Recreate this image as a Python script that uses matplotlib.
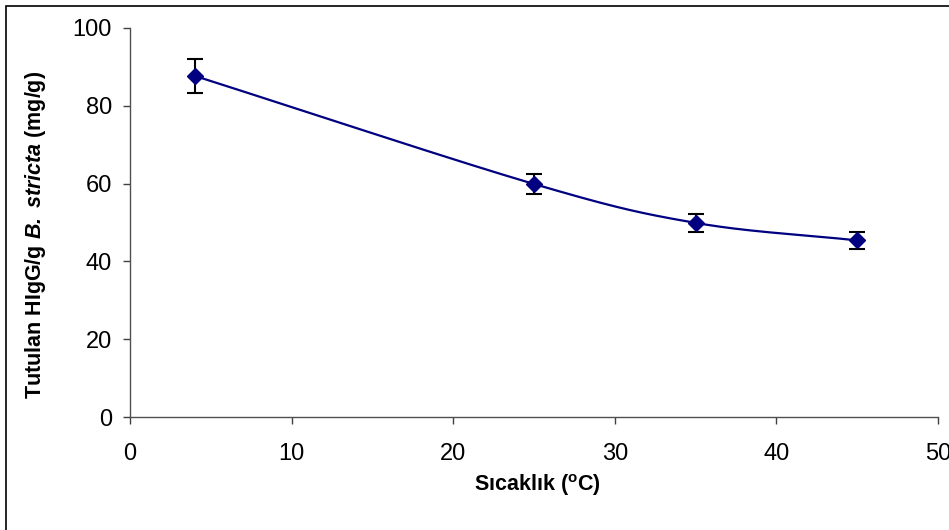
import numpy as np
import matplotlib
matplotlib.use("Agg")
import matplotlib.pyplot as plt
from matplotlib.patches import Rectangle

plt.rcParams["font.family"] = ["Liberation Sans", "DejaVu Sans"]
plt.rcParams["mathtext.fontset"] = "custom"
plt.rcParams["mathtext.rm"] = "Liberation Sans"
plt.rcParams["mathtext.bf"] = "Liberation Sans:bold"
plt.rcParams["mathtext.it"] = "Liberation Sans:italic"
plt.rcParams["mathtext.bfit"] = "Liberation Sans:bold:italic"

# Temperature (°C) vs. bound HIgG per gram of B. stricta (mg/g)
temperature = [4, 25, 35, 45]
bound_igg = [87.7, 59.9, 49.9, 45.4]
bound_err = [4.3, 2.6, 2.4, 2.2]
x_ticks = [0, 10, 20, 30, 40, 50]
y_ticks = [0, 20, 40, 60, 80, 100]


def catmull_rom(xs, ys, n=60):
    """Smoothed curve through the points (Excel-style smoothed line)."""
    pts = np.column_stack([xs, ys]).astype(float)
    p = np.vstack([2 * pts[0] - pts[1], pts, 2 * pts[-1] - pts[-2]])
    out = []
    t = np.linspace(0, 1, n)[:, None]
    for i in range(1, len(p) - 2):
        p0, p1, p2, p3 = p[i - 1], p[i], p[i + 1], p[i + 2]
        seg = 0.5 * ((2 * p1) + (-p0 + p2) * t
                     + (2 * p0 - 5 * p1 + 4 * p2 - p3) * t ** 2
                     + (-p0 + 3 * p1 - 3 * p2 + p3) * t ** 3)
        out.append(seg if i == 1 else seg[1:])
    c = np.vstack(out)
    return c[:, 0], c[:, 1]


fig = plt.figure(figsize=(9.49, 5.30), dpi=100)
ax = fig.add_axes([130 / 949, 1 - 417 / 530, (938 - 130) / 949, (417 - 28) / 530])

cx, cy = catmull_rom(temperature, bound_igg)
ax.plot(cx, cy, color="#000080", lw=1.6, zorder=2)
ax.errorbar(temperature, bound_igg, yerr=bound_err, fmt="none",
            ecolor="black", elinewidth=1.5, capsize=6, capthick=1.5, zorder=3)
ax.plot(temperature, bound_igg, linestyle="none", marker="D", ms=8.5,
        color="#000080", zorder=4)

ax.set_xlim(0, 50)
ax.set_ylim(0, 100)
ax.set_xticks(x_ticks)
ax.set_yticks(y_ticks)
ax.tick_params(axis="both", direction="out", length=5, width=1,
               color="#404040", labelsize=17, labelcolor="black")
ax.tick_params(axis="x", pad=14)
ax.tick_params(axis="y", pad=8)
for side in ("top", "right"):
    ax.spines[side].set_visible(False)
for side in ("left", "bottom"):
    ax.spines[side].set_color("#505050")
    ax.spines[side].set_linewidth(1)

fig.text(537 / 949, 1 - 485 / 530, r"Sıcaklık ($\mathbf{^o}$C)",
         ha="center", va="center", fontsize=15.5, fontweight="bold")
fig.text(36 / 949, 1 - 235 / 530,
         r"Tutulan HIgG/g $\mathbfit{B.}$ $\mathbfit{stricta}$ (mg/g)",
         ha="center", va="center", rotation=90, fontsize=15.5,
         fontweight="bold")

fig.patches.append(Rectangle((6 / 949, -0.05), 1.2, 1 - 6 / 530 + 0.05,
                             transform=fig.transFigure, fill=False,
                             edgecolor="black", lw=1.2))

fig.savefig("out.png", dpi=100)
